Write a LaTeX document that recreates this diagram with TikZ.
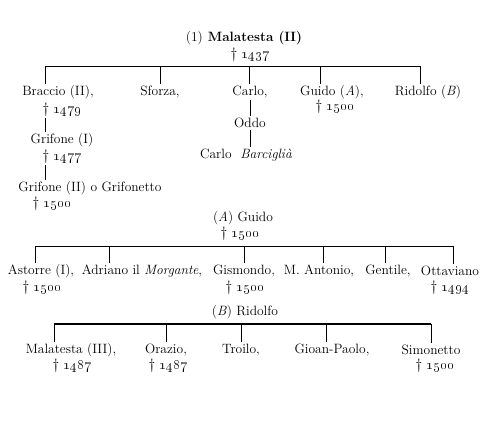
\documentclass[tikz,border=0pt]{standalone}
\usepackage{amsmath,amssymb}
\usetikzlibrary{calc, positioning}

\tikzset{
  person/.style={font=\fontsize{13.5}{15}\selectfont, inner sep=1.5pt},
  bperson/.style={person, font=\fontsize{13.5}{15}\selectfont\bfseries},
  death/.style={font=\fontsize{15}{17}\selectfont, inner sep=1pt},
  tick/.style={line width=0.8pt},
  bar/.style={line width=1pt}
}
\newcommand{\obit}[1]{\dag\ \oldstylenums{#1}}

\begin{document}
\begin{tikzpicture}[x=1pt, y=-1pt]
\useasboundingbox (0,0) rectangle (500,432);

\node[bperson] (mal) at (244,38) {\mdseries(1)\bfseries\ Malatesta (II)};
\node[death] (mald) at (250,55) {\obit{1437}};
\coordinate (t1) at (45,66);
\coordinate (t2) at (160,66);
\coordinate (t3) at (249,66);
\coordinate (t4) at (320,66);
\coordinate (t5) at (420,66);
\draw[bar] (t1) -- (t5);

\node[person] (brac) at (58,92) {Braccio (II),};
\node[death] (bracd) at (62,110) {\obit{1479}};
\node[person] (sfor) at (160,92) {Sforza,};
\node[person] (carlo) at (250,92) {Carlo,};
\node[person] (guido) at (332,92) {Guido (\textit{A}),};
\node[death] (guidod) at (335,107) {\obit{1500}};
\node[person] (rid) at (428,92) {Ridolfo (\textit{B})};
\foreach \t/\n in {t1/brac, t2/sfor, t3/carlo, t4/guido, t5/rid}
  \draw[tick] (\t) -- (\t |- \n.north);

\node[person] (oddo) at (250,123) {Oddo};
\node[person] (carlob) at (246,155) {Carlo\ \ \textit{Barciglià}};
\draw[tick] (carlo.south) -- (oddo.north);
\draw[tick] (oddo.south) -- (oddo.south |- carlob.north);

\node[person] (grif) at (62,140) {Grifone (I)};
\node[death] (grifd) at (62,157) {\obit{1477}};
\node[person] (grifo) at (90,188) {Grifone (II) o Grifonetto};
\node[death] (grifod) at (52,204) {\obit{1500}};
\draw[tick] (bracd.south -| t1) -- (grif.north -| t1);
\draw[tick] (grifd.south -| t1) -- (grifo.north -| t1);

\node[person] (guidoA) at (243,218) {(\textit{A})\ Guido};
\node[death] (guidoAd) at (240,234) {\obit{1500}};
\coordinate (a1) at (35,246);
\coordinate (a2) at (109,246);
\coordinate (a3) at (244,246);
\coordinate (a4) at (323,246);
\coordinate (a5) at (385,246);
\coordinate (a6) at (453,246);
\draw[bar] (a1) -- (a6);

\node[person] (ast) at (41,271) {Astorre (I),};
\node[death] (astd) at (42,288) {\obit{1500}};
\node[person] (adr) at (142,271) {Adriano il \textit{Morgante},};
\node[person] (gis) at (244,271) {Gismondo,};
\node[death] (gisd) at (245,288) {\obit{1500}};
\node[person] (mant) at (319,271) {M. Antonio,};
\node[person] (gent) at (388,271) {Gentile,};
\node[person] (otta) at (450,271) {Ottaviano};
\node[death] (ottad) at (450,288) {\obit{1494}};
\foreach \t/\n in {a1/ast, a2/adr, a3/gis, a4/mant, a5/gent, a6/otta}
  \draw[tick] (\t) -- (\t |- \n.north);

\node[person] (ridB) at (245,312) {(\textit{B})\ Ridolfo};
\coordinate (b1) at (54,324);
\coordinate (b2) at (166,324);
\coordinate (b3) at (241,324);
\coordinate (b4) at (326,324);
\coordinate (b5) at (431,324);
\draw[bar, line width=1.3pt] (b1) -- (b5);

\node[person] (mal3) at (71,350) {Malatesta (III),};
\node[death] (mal3d) at (72,366) {\obit{1487}};
\node[person] (ora) at (166,350) {Orazio,};
\node[death] (orad) at (168,366) {\obit{1487}};
\node[person] (troi) at (241,350) {Troilo,};
\node[person] (gioan) at (332,350) {Gioan-Paolo,};
\node[person] (simo) at (431,350) {Simonetto};
\node[death] (simod) at (435,366) {\obit{1500}};
\foreach \t/\n in {b1/mal3, b2/ora, b3/troi, b4/gioan, b5/simo}
  \draw[tick] (\t) -- (\t |- \n.north);
\end{tikzpicture}
\end{document}
